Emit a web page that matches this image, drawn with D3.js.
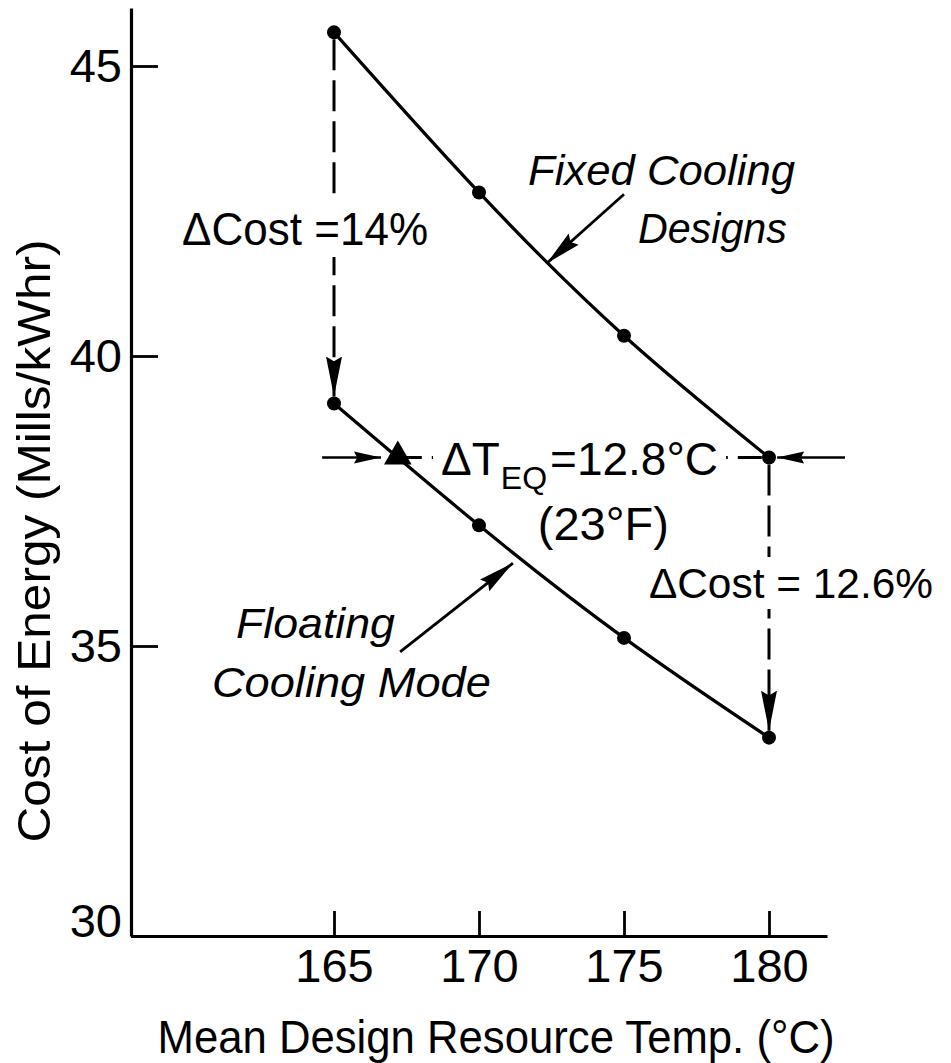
<!DOCTYPE html>
<html>
<head>
<meta charset="utf-8">
<script src="https://cdn.jsdelivr.net/npm/d3@7"></script>
<style>
  html, body { margin: 0; padding: 0; background: #fff; }
  svg { display: block; }
  text { font-family: "Liberation Sans", Arial, sans-serif; fill: #000; }
</style>
</head>
<body>
<svg id="chart" width="951" height="1063"></svg>
<script>
// ---------- data ----------
const temps = [165, 170, 175, 180];
const fixedCost = [45.58, 42.82, 40.35, 38.25];
const floatingCost = [39.18, 37.08, 35.14, 33.42];
const eqTemp = [167.2];
const eqCost = [38.25];
const xTickValues = [165, 170, 175, 180];
const yTickValues = [30, 35, 40, 45];
const xTitle = "Mean Design Resource Temp. (°C)";
const yTitle = "Cost of Energy (Mills/kWhr)";

// ---------- layout ----------
const W = 951, H = 1063;
const svg = d3.select("#chart");
svg.append("rect").attr("width", W).attr("height", H).attr("fill", "#fff");

const x = d3.scaleLinear().domain([158, 182]).range([131, 827]);
const y = d3.scaleLinear().domain([30, 46]).range([936, 8]);

// arrowhead markers
const defs = svg.append("defs");
function marker(id, len, wid) {
  defs.append("marker")
    .attr("id", id)
    .attr("markerUnits", "userSpaceOnUse")
    .attr("markerWidth", len + 2).attr("markerHeight", wid + 2)
    .attr("viewBox", `0 ${-wid / 2 - 1} ${len + 2} ${wid + 2}`)
    .attr("refX", len).attr("refY", 0)
    .attr("orient", "auto")
    .append("path")
    .attr("d", `M0,${-wid / 2}L${len},0L0,${wid / 2}L${len * 0.12},0Z`)
    .attr("fill", "#000");
}
marker("ahBig", 40, 16);
marker("ahPtr", 36, 15);
marker("ahSmall", 27, 12);

// ---------- axes ----------
const yAxis = d3.axisLeft(y).tickValues(yTickValues).tickSize(-27).tickSizeOuter(0).tickPadding(9)
  .tickFormat(d3.format("d"));
const xAxis = d3.axisBottom(x).tickValues(xTickValues).tickSize(-25).tickSizeOuter(0).tickPadding(13)
  .tickFormat(d3.format("d"));

const gy = svg.append("g").attr("transform", `translate(${x.range()[0]},0)`).call(yAxis);
const gx = svg.append("g").attr("transform", `translate(0,${y.range()[0]})`).call(xAxis);

[gx, gy].forEach(g => {
  g.select(".domain").attr("stroke", "#000").attr("stroke-width", 3.2);
  g.selectAll(".tick line").attr("stroke", "#000").attr("stroke-width", 2.8);
  g.selectAll(".tick text").attr("font-size", 47).attr("font-family", "Liberation Sans, Arial, sans-serif").attr("fill", "#000");
});
gy.selectAll(".tick text").filter(d => d === 30).attr("dy", "0");

// axis titles
svg.append("text")
  .attr("x", 496).attr("y", 1053)
  .attr("text-anchor", "middle")
  .attr("font-size", 47)
  .attr("textLength", 677).attr("lengthAdjust", "spacingAndGlyphs")
  .text(xTitle);

svg.append("text")
  .attr("transform", "translate(50,541) rotate(-90)")
  .attr("text-anchor", "middle")
  .attr("font-size", 47)
  .attr("textLength", 603).attr("lengthAdjust", "spacingAndGlyphs")
  .text(yTitle);

// ---------- curves ----------
const fixedData = temps.map((t, i) => [t, fixedCost[i]]);
const floatData = temps.map((t, i) => [t, floatingCost[i]]);
const line = d3.line().x(d => x(d[0])).y(d => y(d[1])).curve(d3.curveNatural);

svg.append("path").datum(fixedData).attr("d", line)
  .attr("fill", "none").attr("stroke", "#000").attr("stroke-width", 3.2);
svg.append("path").datum(floatData).attr("d", line)
  .attr("fill", "none").attr("stroke", "#000").attr("stroke-width", 3.2);

// ---------- annotation lines ----------
const R = 7;
const ann = svg.append("g");

// vertical dashed ΔCost arrows
[0, 3].forEach(i => {
  ann.append("line")
    .attr("x1", x(temps[i])).attr("x2", x(temps[i]))
    .attr("y1", y(fixedCost[i]) + R).attr("y2", y(floatingCost[i]) - R)
    .attr("stroke", "#000").attr("stroke-width", 3)
    .attr("stroke-dasharray", "31,10")
    .attr("marker-end", "url(#ahBig)");
});

// horizontal dashed ΔT_EQ line
ann.append("line")
  .attr("x1", x(eqTemp[0])).attr("x2", x(temps[3]))
  .attr("y1", y(eqCost[0])).attr("y2", y(fixedCost[3]))
  .attr("stroke", "#000").attr("stroke-width", 3)
  .attr("stroke-dasharray", "24,10");

// small horizontal arrows
const hArrows = [
  { from: [164.59, eqCost[0]], to: [166.62, eqCost[0]] },
  { from: [182.62, fixedCost[3]], to: [180.28, fixedCost[3]] }
];
hArrows.forEach(a => {
  ann.append("line")
    .attr("x1", x(a.from[0])).attr("y1", y(a.from[1]))
    .attr("x2", x(a.to[0])).attr("y2", y(a.to[1]))
    .attr("stroke", "#000").attr("stroke-width", 2.5)
    .attr("marker-end", "url(#ahSmall)");
});

// pointer arrows to curve labels
const pointers = [
  { from: [175.0, 42.79], to: [172.34, 41.60] },
  { from: [167.28, 34.90], to: [171.17, 36.43] }
];
pointers.forEach(a => {
  ann.append("line")
    .attr("x1", x(a.from[0])).attr("y1", y(a.from[1]))
    .attr("x2", x(a.to[0])).attr("y2", y(a.to[1]))
    .attr("stroke", "#000").attr("stroke-width", 2.8)
    .attr("marker-end", "url(#ahPtr)");
});

const tg = svg.append("g");

// ---------- points ----------
svg.append("g").selectAll("circle")
  .data(fixedData.concat(floatData))
  .join("circle")
  .attr("cx", d => x(d[0])).attr("cy", d => y(d[1])).attr("r", R)
  .attr("fill", "#000");

svg.append("path")
  .attr("d", d3.symbol().type(d3.symbolTriangle).size(330)())
  .attr("transform", `translate(${x(eqTemp[0])},${y(eqCost[0]) - 1})`)
  .attr("fill", "#000");

// ---------- annotation texts ----------
const labels = [
  { t: "ΔCost =14%", x: 159.76, y: 41.914, len: 246, size: 46, gapX: 165 },
  { t: "Fixed Cooling", x: 171.69, y: 42.948, len: 267, size: 42, italic: true },
  { t: "Designs", x: 175.48, y: 41.948, len: 149, size: 42, italic: true },
  { t: "Floating", x: 161.62, y: 35.138, len: 159, size: 42, italic: true },
  { t: "Cooling Mode", x: 160.79, y: 34.121, len: 279, size: 42, italic: true },
  { t: "(23°F)", x: 172.03, y: 36.828, len: 131, size: 46 },
  { t: "ΔCost = 12.6%", x: 175.86, y: 35.828, len: 284, size: 43, gapX: 180 }
];

labels.forEach(l => {
  const g = tg.append("g");
  const txt = g.append("text")
    .attr("x", x(l.x)).attr("y", y(l.y))
    .attr("font-size", l.size)
    .attr("font-style", l.italic ? "italic" : "normal")
    .attr("textLength", l.len).attr("lengthAdjust", "spacingAndGlyphs")
    .text(l.t);
  if (l.gapX !== undefined) {
    const b = txt.node().getBBox();
    g.insert("rect", "text")
      .attr("x", x(l.gapX) - 5).attr("width", 10)
      .attr("y", b.y - 2).attr("height", b.height + 4)
      .attr("fill", "#fff");
  }
});

// ΔT_EQ label with subscript
const gT = tg.append("g");
const tT = gT.append("text")
  .attr("x", x(168.69)).attr("y", y(37.948))
  .attr("font-size", 46);
tT.append("tspan").text("ΔT");
tT.append("tspan").attr("font-size", 32).attr("dy", 14).attr("dx", 1).text("EQ");
tT.append("tspan").attr("dy", -14).attr("dx", 3).text("=12.8°C");
const bT = tT.node().getBBox();
gT.insert("rect", "text")
  .attr("x", bT.x - 8).attr("width", bT.width + 16)
  .attr("y", y(eqCost[0]) - 5).attr("height", 10)
  .attr("fill", "#fff");
</script>
</body>
</html>
